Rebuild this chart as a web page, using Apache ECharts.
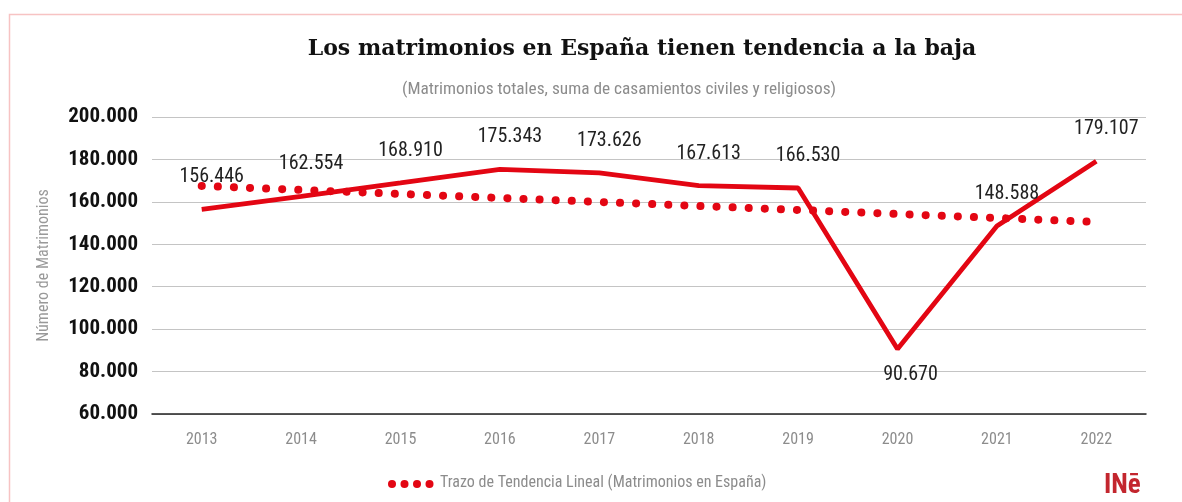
<!DOCTYPE html>
<html>
<head>
<meta charset="utf-8">
<script src="https://cdn.jsdelivr.net/npm/echarts@6/dist/echarts.min.js"></script>
<style>
html,body{margin:0;padding:0;background:#fff;}
#chart{width:1182px;height:502px;}
</style>
</head>
<body>
<div id="chart"></div>
<script>
// ---- data ----
const years = ['2013','2014','2015','2016','2017','2018','2019','2020','2021','2022'];
const matrimonios = [156446, 162554, 168910, 175343, 173626, 167613, 166530, 90670, 148588, 179107];
// linear trend line, endpoints: [category index, value]
const trendStart = [0, 167500];
const trendEnd = [9, 150500];
const yTicks = { min: 60000, max: 200000, interval: 20000 };

const titleText = 'Los matrimonios en España tienen tendencia a la baja';
const subtitleText = '(Matrimonios totales, suma de casamientos civiles y religiosos)';
const yAxisName = 'Número de Matrimonios';
const trendName = 'Trazo de Tendencia Lineal (Matrimonios en España)';

function fmt(v) {
  return String(Math.round(v)).replace(/\B(?=(\d{3})+(?!\d))/g, '.');
}

const NARROW = "'Roboto Condensed', 'DejaVu Sans Condensed', sans-serif";
const RED = '#e30613';

const chart = echarts.init(document.getElementById('chart'), null, { renderer: 'canvas' });

const mainData = matrimonios.map((v, i) => {
  if (i === 7) {
    return { value: v, label: { offset: [13, 26] } };
  }
  return v;
});

// legend key: four dots followed by the trend name
const legendDots = [0, 1, 2, 3].map(k => ({
  type: 'circle',
  shape: { cx: 392 + k * 12.5, cy: 484, r: 4 },
  style: { fill: RED },
  silent: true
}));

chart.setOption({
  animation: false,
  backgroundColor: '#fff',
  title: [{
    text: titleText,
    left: 637, top: 33, textAlign: 'center',
    textStyle: { fontFamily: "'DejaVu Serif', serif", fontWeight: 'bold', fontSize: 22, color: '#111' }
  }, {
    text: subtitleText,
    left: 614, top: 76, textAlign: 'center',
    textStyle: { fontFamily: NARROW, fontWeight: 'normal', fontSize: 17.3, color: '#8c8c8c' }
  }],
  grid: { left: 152, right: 36, top: 117, bottom: 88 },
  xAxis: {
    type: 'category',
    data: years,
    boundaryGap: true,
    axisLine: { show: true, lineStyle: { color: '#222', width: 1.5 } },
    axisTick: { show: false },
    axisLabel: { fontFamily: NARROW, fontSize: 16, color: '#8c8c8c', margin: 18 }
  },
  yAxis: {
    type: 'value',
    min: yTicks.min, max: yTicks.max, interval: yTicks.interval,
    name: yAxisName,
    nameLocation: 'middle',
    nameGap: 100,
    nameTextStyle: { fontFamily: NARROW, fontSize: 16, color: '#999' },
    axisLine: { show: false },
    axisTick: { show: false },
    splitLine: { show: true, lineStyle: { color: '#c4c4c4', width: 1.2 } },
    axisLabel: {
      fontFamily: NARROW, fontWeight: 'bold', fontSize: 21, color: '#111', margin: 14,
      formatter: fmt
    }
  },
  series: [{
    name: 'Matrimonios',
    type: 'line',
    data: mainData,
    showSymbol: true,
    symbol: 'circle',
    symbolSize: 0,
    itemStyle: { color: RED },
    lineStyle: { color: RED, width: 4.8 },
    label: {
      show: true,
      position: 'inside',
      offset: [10, -32],
      align: 'center',
      verticalAlign: 'middle',
      fontFamily: NARROW, fontSize: 20, color: '#222',
      formatter: p => fmt(p.value)
    },
    z: 3
  }, {
    name: trendName,
    type: 'line',
    data: [trendStart, trendEnd],
    showSymbol: false,
    symbol: 'none',
    itemStyle: { color: RED },
    lineStyle: { color: RED, width: 8, type: [0.1, 16], cap: 'round' },
    z: 2
  }],
  graphic: [{
    type: 'polyline',
    shape: { points: [[9.5, 502], [9.5, 14.5], [1182, 14.5]] },
    style: { stroke: '#f7c3c3', lineWidth: 1.5, fill: null },
    silent: true
  }].concat(legendDots, [{
    type: 'text',
    left: 440, top: 475,
    style: { text: trendName, fontFamily: NARROW, fontSize: 16, fill: '#8c8c8c' },
    silent: true
  }, {
    type: 'text',
    left: 1104, top: 473,
    style: { text: 'INē', fontFamily: "'Roboto Condensed', 'DejaVu Sans', sans-serif", fontSize: 27, fontWeight: 'bold', fill: '#c3262e' }
  }])
});
</script>
</body>
</html>
